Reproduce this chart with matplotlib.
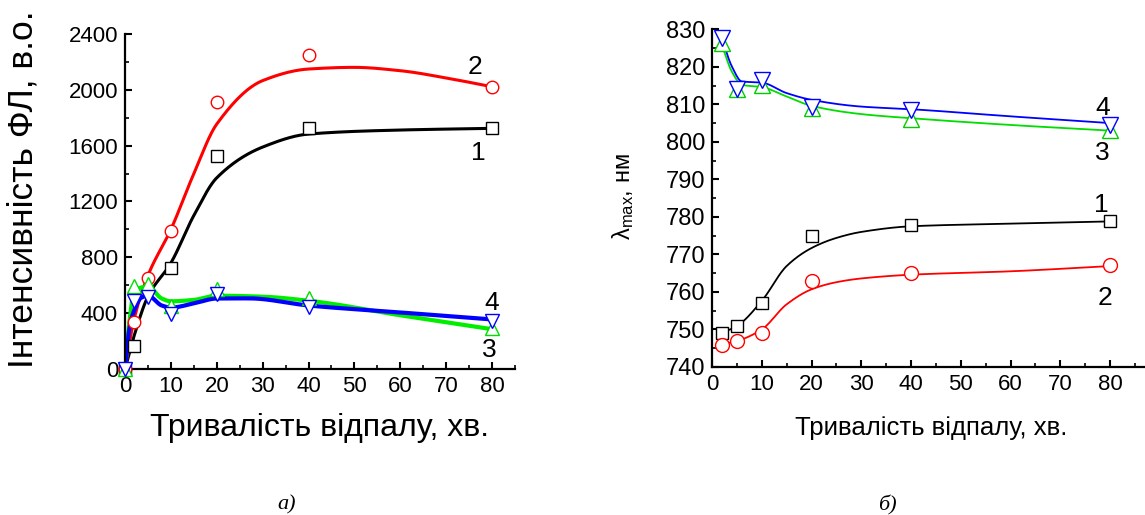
import matplotlib
matplotlib.use('Agg')
import matplotlib.pyplot as plt
from matplotlib.ticker import MultipleLocator
import numpy as np

plt.rcParams['font.family'] = ['Liberation Sans', 'DejaVu Sans']
plt.rcParams['mathtext.default'] = 'regular'

# ---- panel a): PL intensity vs annealing time ----
t_a = [0, 2, 5, 10, 20, 40, 80]
int_1 = [0, 162, None, 723, 1528, 1724, 1724]
int_2 = [0, 339, 652, 991, 1915, 2252, 2018]
int_3 = [0, 597, 609, 454, 573, 506, 291]
int_4 = [0, 489, 518, 394, 537, 446, 341]

# fitted curves (knots)
fit_x1 = [0, 2, 5, 10, 15, 20, 30, 40, 60, 80]
fit_y1 = [0, 240, 520, 760, 1100, 1370, 1590, 1683, 1712, 1724]
fit_x2 = [0, 2, 5, 10, 15, 20, 30, 40, 50, 60, 70, 80]
fit_y2 = [0, 360, 670, 1000, 1400, 1755, 2066, 2149, 2161, 2137, 2085, 2022]
fit_x3 = [0, 1, 2, 5, 8, 10, 15, 20, 30, 40, 60, 70, 80]
fit_y3 = [0, 350, 560, 590, 505, 485, 495, 525, 518, 489, 385, 335, 285]
fit_x4 = [0, 1, 2, 3.5, 5, 8, 10, 15, 20, 27, 40, 60, 80]
fit_y4 = [0, 300, 420, 510, 525, 455, 440, 470, 505, 506, 455, 405, 355]

# ---- panel б): lambda_max vs annealing time ----
t_b = [2, 5, 10, 20, 40, 80]
lam_1 = [749.1, 750.9, 757.1, 775.0, 777.9, 779.0]
lam_2 = [745.9, 746.9, 749.1, 763.0, 765.1, 767.1]
lam_3 = [826.4, 814.0, 815.2, 809.0, 806.0, 803.2]
lam_4 = [827.6, 814.0, 816.5, 809.4, 808.5, 804.5]

lfit_x = [2, 5, 10, 15, 20, 25, 30, 40, 60, 80]
lfit_1 = [749.1, 750.9, 757.6, 766.9, 771.7, 774.4, 776.0, 777.5, 778.2, 778.8]
lfit_2 = [746.0, 746.9, 750.0, 756.7, 760.7, 762.6, 763.6, 764.6, 765.5, 766.9]
lfit_x34 = [2, 4, 6, 10, 15, 20, 30, 40, 60, 80]
lfit_3 = [825.8, 818.7, 815.2, 814.6, 812.1, 809.6, 807.4, 806.3, 804.5, 803.0]
lfit_4 = [827.6, 820.1, 816.1, 815.8, 813.0, 811.2, 809.4, 808.7, 806.8, 805.0]


def pchip(x, y, xs):
    x = np.asarray(x, float)
    y = np.asarray(y, float)
    h = np.diff(x)
    d = np.diff(y) / h
    m = np.zeros_like(y)
    for k in range(1, len(x) - 1):
        if d[k - 1] * d[k] > 0:
            w1 = 2 * h[k] + h[k - 1]
            w2 = h[k] + 2 * h[k - 1]
            m[k] = (w1 + w2) / (w1 / d[k - 1] + w2 / d[k])
    m[0] = d[0]
    m[-1] = d[-1]
    i = np.clip(np.searchsorted(x, xs) - 1, 0, len(x) - 2)
    s = (xs - x[i]) / h[i]
    h00 = 2 * s**3 - 3 * s**2 + 1
    h10 = s**3 - 2 * s**2 + s
    h01 = -2 * s**3 + 3 * s**2
    h11 = s**3 - s**2
    return h00 * y[i] + h10 * h[i] * m[i] + h01 * y[i + 1] + h11 * h[i] * m[i + 1]


def style_axes(ax):
    for side in ['top', 'right']:
        ax.spines[side].set_visible(False)
    for side in ['left', 'bottom']:
        ax.spines[side].set_linewidth(1.6)
    ax.tick_params(which='major', direction='in', length=5, width=1.5,
                   labelsize=16, pad=5)
    ax.tick_params(which='minor', direction='in', length=3, width=1.2)


W, H = 1145, 515
fig = plt.figure(figsize=(11.45, 5.15), dpi=100)

# panel a
ax1 = fig.add_axes([0.1092, 0.2835, 0.3406, 0.6505])
xs = np.linspace(0, 80, 400)
ax1.plot(xs, pchip(fit_x1, fit_y1, xs), color='black', lw=2.2, zorder=2)
ax1.plot(xs, pchip(fit_x2, fit_y2, xs), color='#ff0000', lw=2.2, zorder=2)
ax1.plot(xs, pchip(fit_x3, fit_y3, xs), color='#00ee00', lw=3.0, zorder=2)
ax1.plot(xs, pchip(fit_x4, fit_y4, xs), color='#0000ff', lw=3.0, zorder=2)

t1 = [t for t, v in zip(t_a, int_1) if v is not None]
v1 = [v for v in int_1 if v is not None]
mk = dict(ls='none', mfc='white', mew=1.0, zorder=3, clip_on=False)
ax1.plot(t1, v1, marker='s', ms=8.5, mec='black', **mk)
ax1.plot(t_a, int_2, marker='o', ms=9, mec='#ff0000', **mk)
ax1.plot(t_a, int_3, marker='^', ms=10, mec='#00dd00', **mk)
ax1.plot(t_a, int_4, marker='v', ms=10, mec='#0000ff', **mk)

ax1.set_xlim(0, 85)
ax1.set_ylim(0, 2400)
ax1.xaxis.set_major_locator(MultipleLocator(10))
ax1.xaxis.set_minor_locator(MultipleLocator(5))
ax1.yaxis.set_major_locator(MultipleLocator(400))
ax1.yaxis.set_minor_locator(MultipleLocator(200))
style_axes(ax1)

fig.text(320 / W, 1 - 428 / H, 'Тривалість відпалу, хв.', fontsize=23,
         ha='center', va='center')
fig.text(24 / W, 1 - 189 / H, 'Інтенсивність ФЛ, в.о.', fontsize=25.5,
         rotation=90, ha='center', va='center')

lab_a = ['1', '2', '3', '4']
lab_a_x = [77.1, 76.3, 79.3, 80.0]
lab_a_y = [1547, 2164, 136, 473]
for s, x, y in zip(lab_a, lab_a_x, lab_a_y):
    ax1.text(x, y, s, fontsize=19, ha='center', va='center')

# panel б
ax2 = fig.add_axes([0.6218, 0.2874, 0.3782, 0.6557])
xb = np.linspace(2, 80, 400)
ax2.plot(xb, pchip(lfit_x, lfit_1, xb), color='black', lw=1.3, zorder=2)
ax2.plot(xb, pchip(lfit_x, lfit_2, xb), color='#ff0000', lw=1.3, zorder=2)
ax2.plot(xb, pchip(lfit_x34, lfit_3, xb), color='#00dd00', lw=1.3, zorder=2)
ax2.plot(xb, pchip(lfit_x34, lfit_4, xb), color='#0000ff', lw=1.3, zorder=2)
ax2.plot(t_b, lam_1, marker='s', ms=9, mec='black', **mk)
ax2.plot(t_b, lam_2, marker='o', ms=10, mec='#ff0000', **mk)
ax2.plot(t_b, lam_3, marker='^', ms=11, mec='#00cc00', **mk)
ax2.plot(t_b, lam_4, marker='v', ms=11, mec='#0000ff', **mk)

ax2.set_xlim(0, 87)
ax2.set_ylim(740, 830)
ax2.xaxis.set_major_locator(MultipleLocator(10))
ax2.xaxis.set_minor_locator(MultipleLocator(5))
ax2.yaxis.set_major_locator(MultipleLocator(10))
ax2.yaxis.set_minor_locator(MultipleLocator(5))
style_axes(ax2)
ax2.tick_params(axis='y', labelsize=17)

fig.text(931 / W, 1 - 428 / H, 'Тривалість відпалу, хв.', fontsize=18.5,
         ha='center', va='center')
fig.text(623 / W, 1 - 197 / H, r'$\lambda_{max}$, нм', fontsize=17,
         rotation=90, ha='center', va='center')

lab_b = ['1', '2', '3', '4']
lab_b_x = [78.3, 79.0, 78.5, 78.5]
lab_b_y = [783.1, 758.4, 797.0, 809.0]
for s, x, y in zip(lab_b, lab_b_x, lab_b_y):
    ax2.text(x, y, s, fontsize=19, ha='center', va='center')

fig.text(287 / W, 1 - 505 / H, 'а)', fontsize=16, style='italic',
         family=['Liberation Serif', 'DejaVu Serif'], ha='center', va='center')
fig.text(887 / W, 1 - 505 / H, 'б)', fontsize=16, style='italic',
         family=['Liberation Serif', 'DejaVu Serif'], ha='center', va='center')

fig.savefig('out.png', dpi=100)
